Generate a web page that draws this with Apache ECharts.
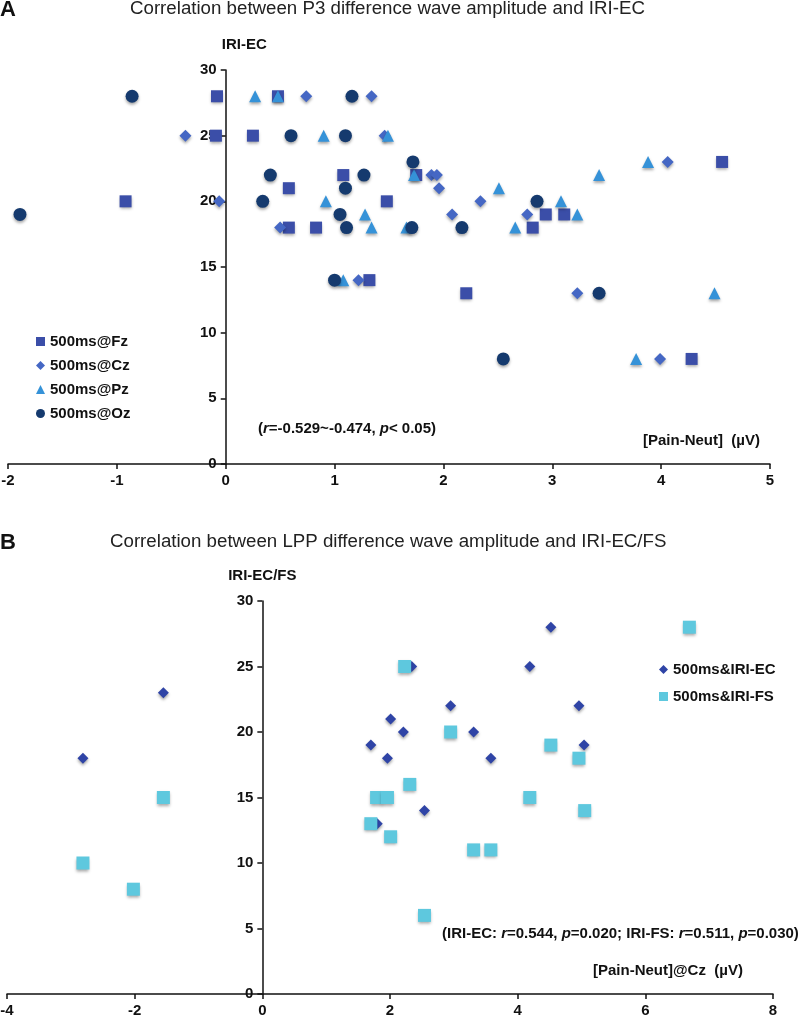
<!DOCTYPE html>
<html>
<head>
<meta charset="utf-8">
<script src="https://cdn.jsdelivr.net/npm/echarts@6/dist/echarts.min.js"></script>
<style>
  html, body { margin: 0; padding: 0; background: #fff; }
  #main { width: 798px; height: 1018px; }
</style>
</head>
<body>
<div id="main"></div>
<script>
// Panel A: P3 difference wave amplitude vs IRI-EC, [x, y]
var p3Fz = [[-0.08, 28], [0.48, 28], [-0.09, 25], [0.25, 25], [1.08, 22], [1.75, 22], [-0.92, 20], [1.48, 20],
    [0.58, 21], [0.58, 18], [0.83, 18], [2.94, 19], [3.11, 19], [2.82, 18], [4.56, 23], [1.32, 14], [2.21, 13], [4.28, 8]];
var p3Cz = [[0.74, 28], [1.34, 28], [-0.37, 25], [1.46, 25], [1.89, 22], [1.94, 22], [1.96, 21], [2.34, 20],
    [2.08, 19], [2.77, 19], [4.06, 23], [-0.06, 20], [0.50, 18], [1.22, 14], [3.23, 13], [3.99, 8]];
var p3Pz = [[0.27, 28], [0.48, 28], [0.90, 25], [1.49, 25], [1.73, 22], [2.51, 21], [3.08, 20], [3.23, 19],
    [2.66, 18], [1.66, 18], [3.43, 22], [3.88, 23], [0.92, 20], [1.28, 19], [1.34, 18], [1.08, 14], [4.49, 13], [3.77, 8]];
var p3Oz = [[-0.86, 28], [1.16, 28], [0.60, 25], [1.10, 25], [0.41, 22], [1.27, 22], [1.72, 23], [2.86, 20],
    [2.17, 18], [1.71, 18], [-1.89, 19], [0.34, 20], [1.05, 19], [1.10, 21], [1.11, 18], [1.00, 14], [2.55, 8], [3.43, 13]];

// Panel B: LPP difference wave amplitude vs IRI-EC / IRI-FS
var lppEC = [[-2.81, 18], [-1.55, 23], [1.70, 19], [1.96, 18], [2.01, 21], [2.21, 20], [2.34, 25], [2.95, 22],
    [3.31, 20], [3.58, 18], [4.19, 25], [4.52, 28], [4.96, 22], [5.04, 19], [1.80, 13], [2.54, 14]];
var lppFS = [[-2.81, 10], [-2.02, 8], [-1.55, 15], [1.70, 13], [1.79, 15], [1.96, 15], [2.01, 12], [2.23, 25],
    [2.31, 16], [2.95, 20], [3.31, 11], [3.58, 11], [4.19, 15], [4.52, 19], [4.96, 18], [5.05, 14], [2.54, 6], [6.69, 28]];

var namesA = ['500ms@Fz', '500ms@Cz', '500ms@Pz', '500ms@Oz'];
var namesB = ['500ms&IRI-EC', '500ms&IRI-FS'];

var FONT = '"Liberation Sans", Arial, sans-serif';
var W = 798;
var gridA = { left: 8, right: 28, top: 70, height: 394 };
var gridB = { left: 7, right: 25, top: 601, height: 393 };
var xRangeA = [-2, 5], xRangeB = [-4, 8];

// y轴放在x=0处：向右偏移的像素
function zeroOffset(g, r) {
    var w = W - g.left - g.right;
    return -(0 - r[0]) / (r[1] - r[0]) * w;
}

var chart = echarts.init(document.getElementById('main'));

// 坐标轴公共样式
function axisStyle(extra) {
    var base = {
        type: 'value',
        splitLine: { show: false },
        axisLine: { onZero: false, lineStyle: { color: '#111', width: 1.5 } },
        axisTick: { length: 5, lineStyle: { color: '#111', width: 1.5 } },
        axisLabel: { color: '#111', fontWeight: 'bold', fontSize: 15, fontFamily: FONT, margin: 9 }
    };
    return Object.assign(base, extra);
}

// 散点系列
function dots(name, data, symbol, size, color, idx) {
    return {
        name: name,
        type: 'scatter',
        xAxisIndex: idx,
        yAxisIndex: idx,
        data: data,
        symbol: symbol,
        symbolSize: size,
        itemStyle: {
            color: color,
            opacity: 1,
            shadowColor: 'rgba(0,0,0,0.35)',
            shadowBlur: 3,
            shadowOffsetY: 2
        }
    };
}

var italicRich = {
    n: { fontWeight: 'bold', fontSize: 15, fontFamily: FONT, fill: '#111' },
    i: { fontWeight: 'bold', fontStyle: 'italic', fontSize: 15, fontFamily: FONT, fill: '#111' }
};

var option = {
    backgroundColor: '#fff',
    animation: false,
    title: [
        { text: 'A', left: 0, top: -1, padding: 0, textStyle: { fontSize: 22, fontWeight: 'bold', color: '#111', fontFamily: FONT } },
        { text: 'Correlation between P3 difference wave amplitude and IRI-EC', left: 130, top: -1, padding: 0,
          textStyle: { fontSize: 18.7, fontWeight: 'normal', color: '#222', fontFamily: FONT } },
        { text: 'B', left: 0, top: 532, padding: 0, textStyle: { fontSize: 22, fontWeight: 'bold', color: '#111', fontFamily: FONT } },
        { text: 'Correlation between LPP difference wave amplitude and IRI-EC/FS', left: 110, top: 532, padding: 0,
          textStyle: { fontSize: 18.7, fontWeight: 'normal', color: '#222', fontFamily: FONT } }
    ],
    legend: [
        { data: namesA, orient: 'vertical', left: 36, top: 334, padding: 0, itemGap: 9, itemWidth: 9, itemHeight: 9,
          textStyle: { fontSize: 15, fontWeight: 'bold', color: '#111', fontFamily: FONT } },
        { data: namesB, orient: 'vertical', left: 659, top: 662, padding: 0, itemGap: 12, itemWidth: 9, itemHeight: 9,
          textStyle: { fontSize: 15, fontWeight: 'bold', color: '#111', fontFamily: FONT } }
    ],
    grid: [
        Object.assign({ containLabel: false, outerBoundsMode: 'none' }, gridA),
        Object.assign({ containLabel: false, outerBoundsMode: 'none' }, gridB)
    ],
    xAxis: [
        axisStyle({ gridIndex: 0, min: xRangeA[0], max: xRangeA[1], interval: 1 }),
        axisStyle({ gridIndex: 1, min: xRangeB[0], max: xRangeB[1], interval: 2 })
    ],
    yAxis: [
        axisStyle({ gridIndex: 0, min: 0, max: 30, interval: 5, offset: zeroOffset(gridA, xRangeA),
            name: 'IRI-EC', nameLocation: 'end', nameGap: 18,
            nameTextStyle: { color: '#111', fontWeight: 'bold', fontSize: 15, fontFamily: FONT, align: 'left', padding: [0, 0, 0, -4] } }),
        axisStyle({ gridIndex: 1, min: 0, max: 30, interval: 5, offset: zeroOffset(gridB, xRangeB),
            name: 'IRI-EC/FS', nameLocation: 'end', nameGap: 18,
            nameTextStyle: { color: '#111', fontWeight: 'bold', fontSize: 15, fontFamily: FONT } })
    ],
    series: [
        dots(namesA[0], p3Fz, 'rect', 12, '#3b4ea8', 0),
        dots(namesA[1], p3Cz, 'diamond', 12, '#4567c4', 0),
        dots(namesA[2], p3Pz, 'triangle', 12, '#3592d8', 0),
        dots(namesA[3], p3Oz, 'circle', 13, '#153a6e', 0),
        dots(namesB[0], lppEC, 'diamond', 11, '#2f44a6', 1),
        dots(namesB[1], lppFS, 'rect', 13, '#5ec8de', 1)
    ],
    graphic: [
        { type: 'text', left: 258, top: 421, style: {
            text: '{n|(}{i|r}{n|=-0.529~-0.474, }{i|p}{n|< 0.05)}',
            font: 'bold 15px ' + FONT, fill: '#111', rich: italicRich
        } },
        { type: 'text', left: 643, top: 433, style: { text: '[Pain-Neut]  (\u00b5V)', font: 'bold 15px ' + FONT, fill: '#111' } },
        { type: 'text', left: 442, top: 926, style: {
            text: '{n|(IRI-EC: }{i|r}{n|=0.544, }{i|p}{n|=0.020; IRI-FS: }{i|r}{n|=0.511, }{i|p}{n|=0.030)}',
            font: 'bold 15px ' + FONT, fill: '#111', rich: italicRich
        } },
        { type: 'text', left: 593, top: 963, style: { text: '[Pain-Neut]@Cz  (\u00b5V)', font: 'bold 15px ' + FONT, fill: '#111' } }
    ]
};

chart.setOption(option);
</script>
</body>
</html>
